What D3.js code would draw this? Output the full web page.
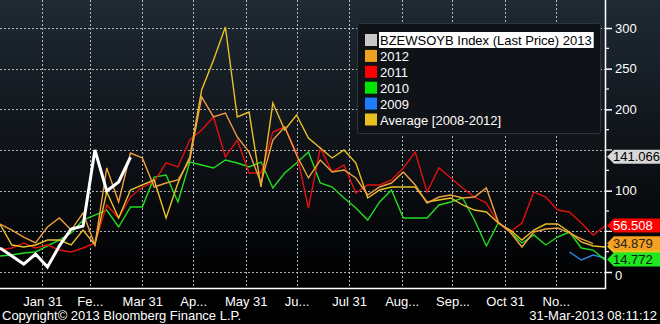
<!DOCTYPE html>
<html><head><meta charset="utf-8">
<script src="https://cdn.jsdelivr.net/npm/d3@7"></script>
<style>html,body{margin:0;padding:0;background:#000;} svg{display:block;font-family:"Liberation Sans",Arial,sans-serif;}</style>
</head><body><svg id="c" width="660" height="324"></svg>
<script>
// ---- DATA ----
const dates = ["2013-01-06","2013-01-13","2013-01-20","2013-01-27","2013-02-03","2013-02-10","2013-02-17","2013-02-24",
"2013-03-03","2013-03-10","2013-03-17","2013-03-24","2013-03-31","2013-04-07","2013-04-14","2013-04-21","2013-04-28",
"2013-05-05","2013-05-12","2013-05-19","2013-05-26","2013-06-02","2013-06-09","2013-06-16","2013-06-23","2013-06-30",
"2013-07-07","2013-07-14","2013-07-21","2013-07-28","2013-08-04","2013-08-11","2013-08-18","2013-08-25",
"2013-09-01","2013-09-08","2013-09-15","2013-09-22","2013-09-29","2013-10-06","2013-10-13","2013-10-20","2013-10-27",
"2013-11-03","2013-11-10","2013-11-17","2013-11-24","2013-12-01","2013-12-08","2013-12-15","2013-12-22","2013-12-29"];
const s2013 = [29.5,19.7,9.8,22.1,6.1,32,52.9,56.6,150,99.6,110.7,141.066];
const s2012 = [59.0,51.6,43.0,35.7,55.3,66.4,51.6,72.5,33.2,127.9,86.1,146.3,140.2,104.5,109.4,113.1,137.7,215.2,190.6,195.5,166.0,147.5,109.4,162.3,178.3,143.9,115.6,137.7,123.0,125.4,115.6,94.7,104.5,109.4,123.0,107.0,84.8,92.2,94.7,91.0,92.2,103.3,61.5,49.2,30.7,49.2,52.9,54.1,48.0,40.6,34.879];
const s2011 = [27.0,29.5,35.7,29.5,33.2,27.0,24.6,29.5,35.7,82.4,66.4,92.2,104.5,110.7,134.1,129.1,162.3,174.6,190.6,141.6,162.3,121.7,121.7,172.1,178.3,146.3,78.7,152.5,123.0,131.6,97.1,107.0,107.0,113.1,127.9,147.5,98.4,127.9,115.6,103.3,92.2,84.8,60.2,49.2,60.2,98.4,92.2,76.2,73.8,60.2,45.5,56.508];
const s2010 = [19.7,20.9,23.4,24.6,32.0,39.3,48.0,63.9,70.0,76.2,55.3,79.9,79.9,116.8,119.3,86.1,135.2,131.6,127.9,137.7,134.0,129.1,135.2,103.3,121.7,134.0,147.5,109.4,104.5,91.0,78.7,63.9,86.1,100.8,66.4,66.4,66.4,82.4,86.1,91.0,63.9,32.0,60.2,49.2,35.7,45.5,33.2,43.0,49.2,29.5,27.0,14.772];
const dates2009 = ["2013-12-08","2013-12-15","2013-12-22","2013-12-29"];
const s2009 = [24.6,14.8,20.9,17.2];
const sAvg = [59.0,33.2,30.7,33.2,39.3,39.3,33.2,51.6,33.2,98.4,66.4,100.8,107.0,113.1,66.4,109.4,141.4,223.8,260.7,301.2,190.6,196.7,104.5,207.8,174.6,193.0,164.8,152.5,140.2,150.0,134.0,91.0,100.8,104.5,104.5,104.5,86.1,88.5,91.0,82.4,76.2,73.8,60.2,51.6,39.3,51.6,59.0,59.0,49.2,36.9,32.0,30.7];
const tickDates = ["2013-01-31","2013-02-28","2013-03-31","2013-04-30","2013-05-31","2013-06-30","2013-07-31","2013-08-31","2013-09-30","2013-10-31","2013-11-30"];
const tickLabels = ["Jan 31","Fe...","Mar 31","Ap...","May 31","Ju...","Jul 31","Aug...","Sep...","Oct 31","No..."];
const yTicks = [0,50,100,150,200,250,300];
const yLabelled = [0,100,200,250,300];
const legendNames = ["BZEWSOYB Index (Last Price) 2013","2012","2011","2010","2009","Average [2008-2012]"];
const legendColors = ["#c8c8c8","#f0a020","#ff0000","#00e600","#1e7cff","#e8c020"];

// ---- CHART ----
const W=660,H=324, PR=605, PB=288;
const svg=d3.select("#c");
const defs=svg.append("defs");
const gr=defs.append("linearGradient").attr("id","bg").attr("x1",0).attr("y1",0).attr("x2",0).attr("y2",1);
gr.append("stop").attr("offset","0%").attr("stop-color","#1f2a34");
gr.append("stop").attr("offset","55%").attr("stop-color","#0b0e12");
gr.append("stop").attr("offset","88%").attr("stop-color","#000");
svg.append("rect").attr("width",W).attr("height",H).attr("fill","url(#bg)");
defs.append("clipPath").attr("id","clip").append("rect").attr("x",0).attr("y",0).attr("width",PR).attr("height",PB);

const parse=d3.utcParse("%Y-%m-%d");
const x=d3.scaleUtc().domain([parse(dates[0]),parse(dates[dates.length-1])]).range([0,PR]);
const y=d3.scaleLinear().domain([0,300]).range([272,28]);

// grid
const grid=svg.append("g");
grid.selectAll(".hg").data(yTicks).join("line")
  .attr("x1",0).attr("x2",PR).attr("y1",d=>Math.round(y(d))+0.5).attr("y2",d=>Math.round(y(d))+0.5)
  .attr("stroke","#cfd3d8").attr("stroke-width",1).attr("stroke-dasharray","2,2").attr("opacity",0.85);
grid.selectAll(".vg").data(tickDates).join("line")
  .attr("x1",d=>Math.round(x(parse(d)))+0.5).attr("x2",d=>Math.round(x(parse(d)))+0.5).attr("y1",0).attr("y2",PB)
  .attr("stroke","#cfd3d8").attr("stroke-width",1).attr("stroke-dasharray","2,2").attr("opacity",0.85);

// series
const line=d3.line().x(d=>x(d[0])).y(d=>y(d[1]));
const series=[
  {dates:dates2009, vals:s2009, color:"#2a86e0", w:1.4},
  {dates:dates, vals:s2010, color:"#22dd22", w:1.4},
  {dates:dates, vals:s2011, color:"#e01010", w:1.4},
  {dates:dates, vals:sAvg, color:"#e8c028", w:1.4},
  {dates:dates, vals:s2012, color:"#eea040", w:1.4},
  {dates:dates, vals:s2013, color:"#ffffff", w:3}
];
const lg=svg.append("g").attr("clip-path","url(#clip)");
series.forEach(s=>{
  const pts=s.vals.map((v,i)=>[parse(s.dates[i]),v]);
  lg.append("path").attr("d",line(pts)).attr("fill","none").attr("stroke",s.color)
    .attr("stroke-width",s.w).attr("stroke-linejoin","miter");
});

// x axis
const xa=svg.append("g").attr("transform",`translate(0,${PB})`)
  .call(d3.axisBottom(x).tickValues(tickDates.map(parse)).tickFormat((d,i)=>tickLabels[i]).tickSize(0).tickPadding(9));
xa.select(".domain").remove();
xa.selectAll("text").attr("fill","#fff").attr("font-size",13).attr("font-family","Liberation Sans, Arial, sans-serif");
svg.append("line").attr("x1",0).attr("x2",PR+1).attr("y1",PB+0.5).attr("y2",PB+0.5).attr("stroke","#fff").attr("stroke-width",1.5);

// y axis (right) - labels for values not covered by value tags
const ya=svg.append("g").attr("transform",`translate(${PR},0)`)
  .call(d3.axisRight(y).tickValues(yLabelled).tickSize(7).tickPadding(3));
ya.select(".domain").remove();
ya.selectAll(".tick line").attr("stroke","#fff").attr("stroke-width",1.5);
ya.selectAll("text").attr("fill","#fff").attr("font-size",13).attr("font-family","Liberation Sans, Arial, sans-serif");
ya.selectAll(".tick").filter(d=>d===0).select("text").attr("dy","0.55em");
svg.selectAll(".mt").data(d3.range(25,300,25).filter(d=>!yLabelled.includes(d))).join("line")
  .attr("x1",PR).attr("x2",d=>PR+(d%50===0?7:4)).attr("y1",d=>y(d)).attr("y2",d=>y(d))
  .attr("stroke","#fff").attr("stroke-width",1.2);
svg.append("line").attr("x1",PR+0.5).attr("x2",PR+0.5).attr("y1",0).attr("y2",PB+1).attr("stroke","#fff").attr("stroke-width",1.5);

// legend
const L=svg.append("g");
L.append("rect").attr("x",357.5).attr("y",23.5).attr("width",243).attr("height",110).attr("rx",2)
  .attr("fill","#0f1216").attr("stroke","#30353b");
legendNames.forEach((n,i)=>{
  const cy=40+i*15.9;
  L.append("rect").attr("x",365).attr("y",cy-6).attr("width",12).attr("height",12).attr("fill",legendColors[i]);
  const t=L.append("text").attr("x",380).attr("y",cy+5).attr("font-size",13).attr("fill",i===0?"#000":"#fff").text(n);
  if(i===0){
    const bb=t.node().getBBox();
    L.insert("rect","text").attr("x",bb.x-1).attr("y",cy-8).attr("width",bb.width+3).attr("height",16).attr("fill","#fff");
  }
});

// value tags
const tags=[
  {v:sAvg[sAvg.length-1], bg:"#e8c020", fg:"#000", txt:""},
  {v:s2013[s2013.length-1], bg:"#d6d6d6", fg:"#000", txt:d3.format(".3f")(s2013[s2013.length-1])},
  {v:s2011[s2011.length-1], bg:"#ff0000", fg:"#fff", txt:d3.format(".3f")(s2011[s2011.length-1])},
  {v:s2012[s2012.length-1], bg:"#f5a020", fg:"#222", txt:d3.format(".3f")(s2012[s2012.length-1])},
  {v:s2010[s2010.length-1], bg:"#1ee81e", fg:"#111", txt:d3.format(".3f")(s2010[s2010.length-1])}
];
tags.forEach(t=>{
  const cy=y(t.v)-0.5;
  svg.append("path").attr("d",`M${PR+2},${cy} L${PR+9},${cy-7} L${W},${cy-7} L${W},${cy+7} L${PR+9},${cy+7} Z`).attr("fill",t.bg);
  if(t.txt) svg.append("text").attr("x",613).attr("y",cy+4.5).attr("font-size",13).attr("fill",t.fg).text(t.txt);
});

// footer
svg.append("text").attr("x",2).attr("y",320).attr("font-size",13).attr("fill","#fff").text("Copyright\u00a9 2013 Bloomberg Finance L.P.");
svg.append("text").attr("x",657).attr("y",320).attr("text-anchor","end").attr("font-size",13).attr("fill","#fff").text("31-Mar-2013 08:11:12");
</script></body></html>
